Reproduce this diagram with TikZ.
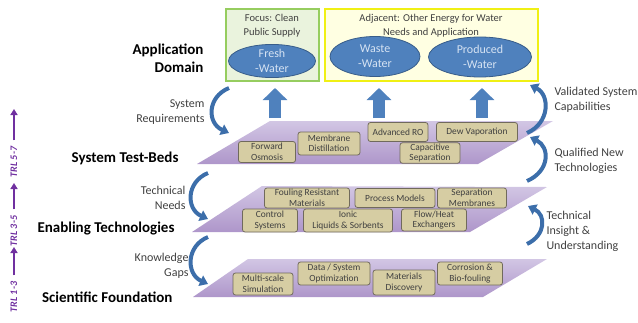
\documentclass[tikz,border=0pt]{standalone}
\usepackage{fontspec}
\setmainfont{Carlito}
\usetikzlibrary{arrows.meta,shapes.geometric}
\definecolor{planeT}{RGB}{210,198,228}
\definecolor{planeB}{RGB}{174,150,202}
\definecolor{tanF}{RGB}{214,205,163}
\definecolor{tanD}{RGB}{112,106,92}
\definecolor{greenF}{RGB}{234,243,221}
\definecolor{greenD}{RGB}{150,205,95}
\definecolor{yellowF}{RGB}{255,255,226}
\definecolor{yellowD}{RGB}{240,240,20}
\definecolor{blueF}{RGB}{79,129,189}
\definecolor{blueD}{RGB}{56,93,138}
\definecolor{blueT}{RGB}{214,227,243}
\definecolor{arrowB}{RGB}{60,110,170}
\definecolor{labG}{RGB}{64,64,64}
\definecolor{purp}{RGB}{112,48,160}
\begin{document}
\begin{tikzpicture}[x=1pt,y=-1pt,
  plane/.style={top color=planeT,bottom color=planeB,draw=none},
  tbox/.style={draw=tanD,fill=tanF,rounded corners=2.5pt,line width=0.8pt,inner sep=1pt,
    align=center,text=labG,font=\fontsize{9.4}{10.5}\selectfont},
  biglab/.style={font=\fontsize{15}{18}\selectfont\bfseries,text=black,align=right},
  smlab/.style={font=\fontsize{12}{15}\selectfont,text=labG},
  toptext/.style={font=\fontsize{10.5}{14}\selectfont,text=labG,align=center},
  ell/.style={ellipse,fill=blueF,draw=blueD,line width=0.8pt,inner sep=0pt,text=blueT,
    align=center,font=\fontsize{12}{15}\selectfont},
  barrow/.style={draw=blueF,line width=12pt,-{Triangle[width=24pt,length=12pt]}},
  carrow/.style={draw=arrowB,line width=4pt,-{Triangle[width=11pt,length=8pt]}},
  tarrow/.style={draw=purp,line width=2.4pt,-{Triangle[width=7pt,length=6pt]}},
  trl/.style={rotate=90,text=purp,font=\fontsize{10}{11}\selectfont\bfseries\itshape}]
\useasboundingbox (0,0) rectangle (638,322);

% top boxes
\node[draw=greenD,fill=greenF,line width=1.6pt,minimum width=93pt,minimum height=72pt,inner sep=0pt] (focus) at (272.5,45) {};
\node[toptext] (focust) at (272,26) {Focus: Clean\\Public Supply};
\node[ell,minimum width=87pt,minimum height=31pt] (fresh) at (272,61) {Fresh\\-Water};

\node[draw=yellowD,fill=yellowF,line width=1.6pt,minimum width=213pt,minimum height=72pt,inner sep=0pt] (adj) at (431.5,45) {};
\node[toptext] (adjt) at (431,25.5) {Adjacent: Other Energy for Water\\Needs and Application};
\node[ell,minimum width=90pt,minimum height=40pt] (waste) at (375,56.5) {Waste\\-Water};
\node[ell,minimum width=103pt,minimum height=40pt] (prod) at (480,57) {Produced\\-Water};

% planes
\path[plane] (197,164) -- (270,121) -- (553,121) -- (478,164) -- cycle;
\path[plane] (192,232) -- (262,186) -- (547,187) -- (470,232) -- cycle;
\path[plane] (193,297) -- (248,259) -- (547,259) -- (483,297) -- cycle;

% System test-beds boxes
\node[tbox,minimum width=62pt,minimum height=23pt] (md) at (329,143.5) {Membrane\\Distillation};
\node[tbox,minimum width=57pt,minimum height=21pt] (fo) at (267,152) {Forward\\Osmosis};
\node[tbox,minimum width=60pt,minimum height=19pt] (aro) at (398,132) {Advanced RO};
\node[tbox,minimum width=81pt,minimum height=19pt] (dew) at (477,132) {Dew Vaporation};
\node[tbox,minimum width=60pt,minimum height=20pt] (cap) at (430,153) {Capacitive\\Separation};

% Enabling technologies boxes
\node[tbox,minimum width=85pt,minimum height=20pt] (frm) at (307,198) {Fouling Resistant\\Materials};
\node[tbox,minimum width=80pt,minimum height=19pt] (pm) at (395,198) {Process Models};
\node[tbox,minimum width=69pt,minimum height=20pt] (sm) at (472,198) {Separation\\Membranes};
\node[tbox,minimum width=55pt,minimum height=23pt] (cs) at (270,220.5) {Control\\Systems};
\node[tbox,minimum width=89pt,minimum height=23pt] (ils) at (348,220.5) {Ionic\\Liquids \& Sorbents};
\node[tbox,minimum width=65pt,minimum height=22pt] (fhe) at (434,220) {Flow/Heat\\Exchangers};

% Scientific foundation boxes
\node[tbox,minimum width=60pt,minimum height=22pt] (mss) at (263,284) {Multi-scale\\Simulation};
\node[tbox,minimum width=72pt,minimum height=23pt] (dso) at (334,273.5) {Data / System\\Optimization};
\node[tbox,minimum width=62pt,minimum height=25pt] (mdi) at (404,282.5) {Materials\\Discovery};
\node[tbox,minimum width=65pt,minimum height=23pt] (cbf) at (470,273.5) {Corrosion \&\\Bio-fouling};

% block arrows
\coordinate (u1s) at (275,118); \coordinate (u1e) at (275,88);
\coordinate (u2s) at (379,118); \coordinate (u2e) at (379,88);
\coordinate (u3s) at (482,118); \coordinate (u3e) at (482,88);
\draw[barrow] (u1s) -- (u1e);
\draw[barrow] (u2s) -- (u2e);
\draw[barrow] (u3s) -- (u3e);

% left labels
\node[biglab,anchor=east] (appdom) at (207,58) {Application\\Domain};
\node[biglab,anchor=east] (stb) at (182,158) {System Test-Beds};
\node[biglab,anchor=east] (et) at (178,229) {Enabling Technologies};
\node[biglab,anchor=east] (sf) at (176,297) {Scientific Foundation};

\node[smlab,anchor=east,align=right] (sreq) at (208,112.5) {System\\Requirements};
\node[smlab,anchor=east,align=right] (tneed) at (189,198) {Technical\\Needs};
\node[smlab,anchor=east,align=right] (kgap) at (192,266) {Knowledge\\Gaps};

% right labels
\node[smlab,anchor=west,align=left] (vsc) at (551,99.5) {Validated System\\Capabilities};
\node[smlab,anchor=west,align=left] (qnt) at (551,161) {Qualified New\\Technologies};
\node[smlab,anchor=west,align=left] (tiu) at (543,231) {Technical\\Insight \&\\Understanding};

% curved arrows left
\coordinate (a1s) at (229,88); \coordinate (a1e) at (229,133);
\coordinate (a2s) at (208,173); \coordinate (a2e) at (208,219);
\coordinate (a3s) at (208,237); \coordinate (a3e) at (208,284);
\draw[carrow] (a1s) .. controls (207,97) and (207,123) .. (a1e);
\draw[carrow] (a2s) .. controls (186,182) and (186,209) .. (a2e);
\draw[carrow] (a3s) .. controls (186,246) and (186,274) .. (a3e);

% curved arrows right
\coordinate (b1s) at (527,133); \coordinate (b1e) at (530,85);
\coordinate (b2s) at (527,181); \coordinate (b2e) at (530,137);
\coordinate (b3s) at (527,244); \coordinate (b3e) at (528,206);
\draw[carrow] (b1s) .. controls (550,123) and (550,95) .. (b1e);
\draw[carrow] (b2s) .. controls (550,171) and (550,147) .. (b2e);
\draw[carrow] (b3s) .. controls (546,235) and (546,215) .. (b3e);

% TRL
\node[trl] (trl57) at (14,162) {TRL 5-7};
\node[trl] (trl35) at (14,231) {TRL 3-5};
\node[trl] (trl13) at (14,297) {TRL 1-3};
\draw[tarrow] (trl57.east) ++(0,-3) coordinate (t1s) -- (14,109) coordinate (t1e);
\draw[tarrow] (trl35.east) ++(0,-3) coordinate (t2s) -- (14,183) coordinate (t2e);
\draw[tarrow] (trl13.east) ++(0,-3) coordinate (t3s) -- (14,247) coordinate (t3e);
\end{tikzpicture}
\end{document}
